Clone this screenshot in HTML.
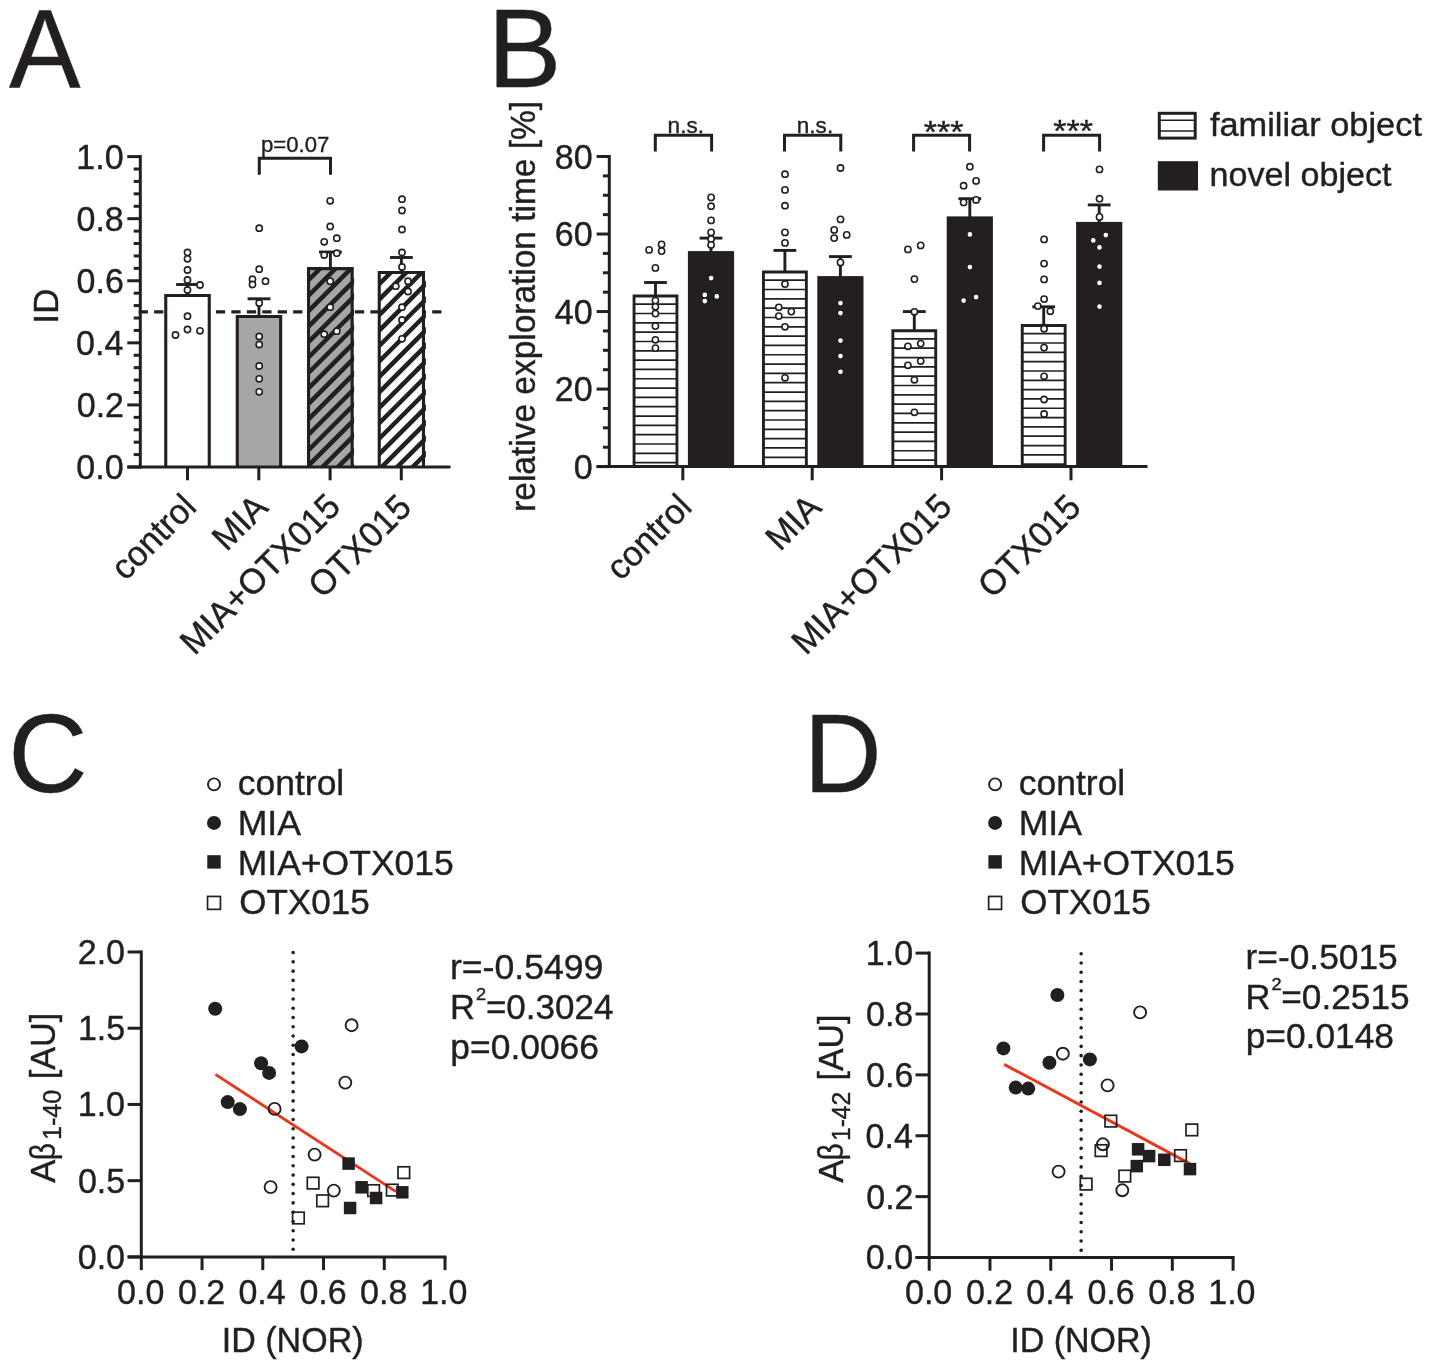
<!DOCTYPE html>
<html><head><meta charset="utf-8"><title>Figure</title>
<style>
html,body{margin:0;padding:0;background:#fff;}
body{width:1429px;height:1369px;overflow:hidden;font-family:"Liberation Sans",sans-serif;}
svg{display:block;will-change:transform;}
svg text{font-family:"Liberation Sans",sans-serif;stroke:#231f20;stroke-width:0.4px;}
</style></head><body>
<svg width="1429" height="1369" viewBox="0 0 1429 1369">
<rect width="1429" height="1369" fill="#fff"/>
<text transform="translate(9.10,87.00) scale(0.9682,1)" x="-0.22" y="0" font-size="110.9" fill="#231f20">A</text>
<text transform="translate(496.70,87.00) scale(0.9962,1)" x="-9.10" y="0" font-size="110.9" fill="#231f20">B</text>
<text transform="translate(13.70,791.70) scale(0.9910,1)" x="-5.63" y="0" font-size="110.9" fill="#231f20">C</text>
<text transform="translate(812.50,791.50) scale(0.9728,1)" x="-9.10" y="0" font-size="110.9" fill="#231f20">D</text>
<line x1="138.65" y1="311.90" x2="441.80" y2="311.90" stroke="#231f20" stroke-width="3.1" stroke-dasharray="9.25 6.2"/>
<line x1="176.10" y1="284.50" x2="198.90" y2="284.50" stroke="#231f20" stroke-width="2.9" />
<line x1="187.50" y1="284.50" x2="187.50" y2="295.50" stroke="#231f20" stroke-width="2.9" />
<line x1="247.60" y1="298.80" x2="270.40" y2="298.80" stroke="#231f20" stroke-width="2.9" />
<line x1="259.00" y1="298.80" x2="259.00" y2="316.50" stroke="#231f20" stroke-width="2.9" />
<line x1="319.00" y1="252.00" x2="341.80" y2="252.00" stroke="#231f20" stroke-width="2.9" />
<line x1="330.40" y1="252.00" x2="330.40" y2="268.60" stroke="#231f20" stroke-width="2.9" />
<line x1="390.00" y1="257.50" x2="412.80" y2="257.50" stroke="#231f20" stroke-width="2.9" />
<line x1="401.40" y1="257.50" x2="401.40" y2="272.40" stroke="#231f20" stroke-width="2.9" />
<rect x="165.75" y="295.55" width="43.50" height="171.45" fill="#fff"/>
<path d="M165.75,467.00 V295.55 H209.25 V467.00" fill="none" stroke="#231f20" stroke-width="3.1"/>
<rect x="237.25" y="316.55" width="43.40" height="150.45" fill="#a7a5a8"/>
<path d="M237.25,467.00 V316.55 H280.65 V467.00" fill="none" stroke="#231f20" stroke-width="3.1"/>
<rect x="308.55" y="268.65" width="43.60" height="198.35" fill="#a7a5a8"/>
<clipPath id="c1"><rect x="308.55" y="268.65" width="45.55" height="198.35"/></clipPath>
<g clip-path="url(#c1)" stroke="#231f20" stroke-width="4.5">
<line x1="302.00" y1="255.75" x2="358.70" y2="199.05"/>
<line x1="302.00" y1="271.20" x2="358.70" y2="214.50"/>
<line x1="302.00" y1="286.65" x2="358.70" y2="229.95"/>
<line x1="302.00" y1="302.10" x2="358.70" y2="245.40"/>
<line x1="302.00" y1="317.55" x2="358.70" y2="260.85"/>
<line x1="302.00" y1="333.00" x2="358.70" y2="276.30"/>
<line x1="302.00" y1="348.45" x2="358.70" y2="291.75"/>
<line x1="302.00" y1="363.90" x2="358.70" y2="307.20"/>
<line x1="302.00" y1="379.35" x2="358.70" y2="322.65"/>
<line x1="302.00" y1="394.80" x2="358.70" y2="338.10"/>
<line x1="302.00" y1="410.25" x2="358.70" y2="353.55"/>
<line x1="302.00" y1="425.70" x2="358.70" y2="369.00"/>
<line x1="302.00" y1="441.15" x2="358.70" y2="384.45"/>
<line x1="302.00" y1="456.60" x2="358.70" y2="399.90"/>
<line x1="302.00" y1="472.05" x2="358.70" y2="415.35"/>
<line x1="302.00" y1="487.50" x2="358.70" y2="430.80"/>
<line x1="302.00" y1="502.95" x2="358.70" y2="446.25"/>
<line x1="302.00" y1="518.40" x2="358.70" y2="461.70"/>
<line x1="302.00" y1="533.85" x2="358.70" y2="477.15"/>
</g>
<path d="M308.55,467.00 V268.65 H352.15 V467.00" fill="none" stroke="#231f20" stroke-width="3.1"/>
<rect x="379.25" y="272.45" width="44.20" height="194.55" fill="#fff"/>
<clipPath id="c2"><rect x="379.25" y="272.45" width="46.65" height="194.55"/></clipPath>
<g clip-path="url(#c2)" stroke="#231f20" stroke-width="4.5">
<line x1="372.70" y1="259.75" x2="430.00" y2="202.45"/>
<line x1="372.70" y1="275.20" x2="430.00" y2="217.90"/>
<line x1="372.70" y1="290.65" x2="430.00" y2="233.35"/>
<line x1="372.70" y1="306.10" x2="430.00" y2="248.80"/>
<line x1="372.70" y1="321.55" x2="430.00" y2="264.25"/>
<line x1="372.70" y1="337.00" x2="430.00" y2="279.70"/>
<line x1="372.70" y1="352.45" x2="430.00" y2="295.15"/>
<line x1="372.70" y1="367.90" x2="430.00" y2="310.60"/>
<line x1="372.70" y1="383.35" x2="430.00" y2="326.05"/>
<line x1="372.70" y1="398.80" x2="430.00" y2="341.50"/>
<line x1="372.70" y1="414.25" x2="430.00" y2="356.95"/>
<line x1="372.70" y1="429.70" x2="430.00" y2="372.40"/>
<line x1="372.70" y1="445.15" x2="430.00" y2="387.85"/>
<line x1="372.70" y1="460.60" x2="430.00" y2="403.30"/>
<line x1="372.70" y1="476.05" x2="430.00" y2="418.75"/>
<line x1="372.70" y1="491.50" x2="430.00" y2="434.20"/>
<line x1="372.70" y1="506.95" x2="430.00" y2="449.65"/>
<line x1="372.70" y1="522.40" x2="430.00" y2="465.10"/>
</g>
<path d="M379.25,467.00 V272.45 H423.45 V467.00" fill="none" stroke="#231f20" stroke-width="3.1"/>
<line x1="140.30" y1="155.10" x2="140.30" y2="468.50" stroke="#231f20" stroke-width="3.0" />
<line x1="127.30" y1="467.00" x2="450.50" y2="467.00" stroke="#231f20" stroke-width="3.0" />
<line x1="127.30" y1="467.00" x2="140.30" y2="467.00" stroke="#231f20" stroke-width="3.0" />
<line x1="133.70" y1="454.58" x2="140.30" y2="454.58" stroke="#231f20" stroke-width="3.0" />
<line x1="133.70" y1="442.17" x2="140.30" y2="442.17" stroke="#231f20" stroke-width="3.0" />
<line x1="133.70" y1="429.75" x2="140.30" y2="429.75" stroke="#231f20" stroke-width="3.0" />
<line x1="133.70" y1="417.34" x2="140.30" y2="417.34" stroke="#231f20" stroke-width="3.0" />
<line x1="127.30" y1="404.92" x2="140.30" y2="404.92" stroke="#231f20" stroke-width="3.0" />
<line x1="133.70" y1="392.50" x2="140.30" y2="392.50" stroke="#231f20" stroke-width="3.0" />
<line x1="133.70" y1="380.09" x2="140.30" y2="380.09" stroke="#231f20" stroke-width="3.0" />
<line x1="133.70" y1="367.67" x2="140.30" y2="367.67" stroke="#231f20" stroke-width="3.0" />
<line x1="133.70" y1="355.26" x2="140.30" y2="355.26" stroke="#231f20" stroke-width="3.0" />
<line x1="127.30" y1="342.84" x2="140.30" y2="342.84" stroke="#231f20" stroke-width="3.0" />
<line x1="133.70" y1="330.42" x2="140.30" y2="330.42" stroke="#231f20" stroke-width="3.0" />
<line x1="133.70" y1="318.01" x2="140.30" y2="318.01" stroke="#231f20" stroke-width="3.0" />
<line x1="133.70" y1="305.59" x2="140.30" y2="305.59" stroke="#231f20" stroke-width="3.0" />
<line x1="133.70" y1="293.18" x2="140.30" y2="293.18" stroke="#231f20" stroke-width="3.0" />
<line x1="127.30" y1="280.76" x2="140.30" y2="280.76" stroke="#231f20" stroke-width="3.0" />
<line x1="133.70" y1="268.34" x2="140.30" y2="268.34" stroke="#231f20" stroke-width="3.0" />
<line x1="133.70" y1="255.93" x2="140.30" y2="255.93" stroke="#231f20" stroke-width="3.0" />
<line x1="133.70" y1="243.51" x2="140.30" y2="243.51" stroke="#231f20" stroke-width="3.0" />
<line x1="133.70" y1="231.10" x2="140.30" y2="231.10" stroke="#231f20" stroke-width="3.0" />
<line x1="127.30" y1="218.68" x2="140.30" y2="218.68" stroke="#231f20" stroke-width="3.0" />
<line x1="133.70" y1="206.26" x2="140.30" y2="206.26" stroke="#231f20" stroke-width="3.0" />
<line x1="133.70" y1="193.85" x2="140.30" y2="193.85" stroke="#231f20" stroke-width="3.0" />
<line x1="133.70" y1="181.43" x2="140.30" y2="181.43" stroke="#231f20" stroke-width="3.0" />
<line x1="133.70" y1="169.02" x2="140.30" y2="169.02" stroke="#231f20" stroke-width="3.0" />
<line x1="127.30" y1="156.60" x2="140.30" y2="156.60" stroke="#231f20" stroke-width="3.0" />
<line x1="187.50" y1="467.00" x2="187.50" y2="480.30" stroke="#231f20" stroke-width="3.0" />
<line x1="258.80" y1="467.00" x2="258.80" y2="480.30" stroke="#231f20" stroke-width="3.0" />
<line x1="330.10" y1="467.00" x2="330.10" y2="480.30" stroke="#231f20" stroke-width="3.0" />
<line x1="401.30" y1="467.00" x2="401.30" y2="480.30" stroke="#231f20" stroke-width="3.0" />
<text transform="translate(122.30,479.00) scale(0.9659,1)" x="-47.56" y="0" font-size="35.2" fill="#231f20">0.0</text>
<text transform="translate(122.30,416.92) scale(0.9659,1)" x="-47.16" y="0" font-size="35.2" fill="#231f20">0.2</text>
<text transform="translate(122.30,354.84) scale(0.9659,1)" x="-47.90" y="0" font-size="35.2" fill="#231f20">0.4</text>
<text transform="translate(122.30,292.76) scale(0.9659,1)" x="-47.39" y="0" font-size="35.2" fill="#231f20">0.6</text>
<text transform="translate(122.30,230.68) scale(0.9659,1)" x="-47.40" y="0" font-size="35.2" fill="#231f20">0.8</text>
<text transform="translate(122.30,168.60) scale(0.9659,1)" x="-47.56" y="0" font-size="35.2" fill="#231f20">1.0</text>
<text transform="translate(58.20,320.50) rotate(-90) scale(1.0044,1)" x="-3.25" y="0" font-size="35.2" fill="#231f20">ID</text>
<polyline points="259.30,174.70 259.30,158.30 330.50,158.30 330.50,174.70" fill="none" stroke="#231f20" stroke-width="3.0"/>
<text transform="translate(295.30,152.00) scale(0.9798,1)" x="-35.04" y="0" font-size="22.6" fill="#231f20">p=0.07</text>
<circle cx="187.50" cy="252.50" r="3.1" fill="#fff" stroke="#231f20" stroke-width="1.6"/>
<circle cx="187.50" cy="258.80" r="3.1" fill="#fff" stroke="#231f20" stroke-width="1.6"/>
<circle cx="187.50" cy="270.00" r="3.1" fill="#fff" stroke="#231f20" stroke-width="1.6"/>
<circle cx="187.50" cy="280.00" r="3.1" fill="#fff" stroke="#231f20" stroke-width="1.6"/>
<circle cx="200.00" cy="285.00" r="3.1" fill="#fff" stroke="#231f20" stroke-width="1.6"/>
<circle cx="187.50" cy="290.00" r="3.1" fill="#fff" stroke="#231f20" stroke-width="1.6"/>
<circle cx="187.50" cy="316.20" r="3.1" fill="#fff" stroke="#231f20" stroke-width="1.6"/>
<circle cx="187.50" cy="329.50" r="3.1" fill="#fff" stroke="#231f20" stroke-width="1.6"/>
<circle cx="200.00" cy="330.80" r="3.1" fill="#fff" stroke="#231f20" stroke-width="1.6"/>
<circle cx="175.50" cy="335.00" r="3.1" fill="#fff" stroke="#231f20" stroke-width="1.6"/>
<circle cx="259.20" cy="228.20" r="3.1" fill="#fff" stroke="#231f20" stroke-width="1.6"/>
<circle cx="259.20" cy="269.20" r="3.1" fill="#fff" stroke="#231f20" stroke-width="1.6"/>
<circle cx="252.50" cy="279.20" r="3.1" fill="#fff" stroke="#231f20" stroke-width="1.6"/>
<circle cx="252.50" cy="284.50" r="3.1" fill="#fff" stroke="#231f20" stroke-width="1.6"/>
<circle cx="265.50" cy="281.20" r="3.1" fill="#fff" stroke="#231f20" stroke-width="1.6"/>
<circle cx="259.20" cy="303.00" r="3.1" fill="#fff" stroke="#231f20" stroke-width="1.6"/>
<circle cx="259.20" cy="336.50" r="3.1" fill="#fff" stroke="#231f20" stroke-width="1.6"/>
<circle cx="259.20" cy="344.50" r="3.1" fill="#fff" stroke="#231f20" stroke-width="1.6"/>
<circle cx="259.20" cy="366.00" r="3.1" fill="#fff" stroke="#231f20" stroke-width="1.6"/>
<circle cx="259.20" cy="378.80" r="3.1" fill="#fff" stroke="#231f20" stroke-width="1.6"/>
<circle cx="259.20" cy="391.80" r="3.1" fill="#fff" stroke="#231f20" stroke-width="1.6"/>
<circle cx="330.20" cy="200.80" r="3.1" fill="#fff" stroke="#231f20" stroke-width="1.6"/>
<circle cx="330.20" cy="226.50" r="3.1" fill="#fff" stroke="#231f20" stroke-width="1.6"/>
<circle cx="336.80" cy="238.20" r="3.1" fill="#fff" stroke="#231f20" stroke-width="1.6"/>
<circle cx="324.20" cy="241.80" r="3.1" fill="#fff" stroke="#231f20" stroke-width="1.6"/>
<circle cx="324.20" cy="255.00" r="3.1" fill="#fff" stroke="#231f20" stroke-width="1.6"/>
<circle cx="336.80" cy="253.20" r="3.1" fill="#fff" stroke="#231f20" stroke-width="1.6"/>
<circle cx="330.20" cy="281.20" r="3.1" fill="#fff" stroke="#231f20" stroke-width="1.6"/>
<circle cx="330.20" cy="307.20" r="3.1" fill="#fff" stroke="#231f20" stroke-width="1.6"/>
<circle cx="324.20" cy="334.20" r="3.1" fill="#fff" stroke="#231f20" stroke-width="1.6"/>
<circle cx="336.80" cy="331.20" r="3.1" fill="#fff" stroke="#231f20" stroke-width="1.6"/>
<circle cx="402.00" cy="199.20" r="3.1" fill="#fff" stroke="#231f20" stroke-width="1.6"/>
<circle cx="402.00" cy="210.50" r="3.1" fill="#fff" stroke="#231f20" stroke-width="1.6"/>
<circle cx="402.00" cy="229.50" r="3.1" fill="#fff" stroke="#231f20" stroke-width="1.6"/>
<circle cx="402.00" cy="252.50" r="3.1" fill="#fff" stroke="#231f20" stroke-width="1.6"/>
<circle cx="402.00" cy="267.00" r="3.1" fill="#fff" stroke="#231f20" stroke-width="1.6"/>
<circle cx="408.00" cy="281.20" r="3.1" fill="#fff" stroke="#231f20" stroke-width="1.6"/>
<circle cx="395.80" cy="286.20" r="3.1" fill="#fff" stroke="#231f20" stroke-width="1.6"/>
<circle cx="408.00" cy="291.50" r="3.1" fill="#fff" stroke="#231f20" stroke-width="1.6"/>
<circle cx="402.00" cy="307.20" r="3.1" fill="#fff" stroke="#231f20" stroke-width="1.6"/>
<circle cx="402.00" cy="320.00" r="3.1" fill="#fff" stroke="#231f20" stroke-width="1.6"/>
<circle cx="402.00" cy="338.80" r="3.1" fill="#fff" stroke="#231f20" stroke-width="1.6"/>
<text transform="translate(196.60,510.50) rotate(-45) scale(0.9744,1)" x="-103.30" y="0" font-size="35.2" fill="#231f20">control</text>
<text transform="translate(269.60,509.30) rotate(-45) scale(0.9744,1)" x="-62.51" y="0" font-size="35.2" fill="#231f20">MIA</text>
<text transform="translate(341.10,509.60) rotate(-45) scale(0.9744,1)" x="-212.75" y="0" font-size="35.2" fill="#231f20">MIA+OTX015</text>
<text transform="translate(412.10,510.30) rotate(-45) scale(0.9744,1)" x="-129.61" y="0" font-size="35.2" fill="#231f20">OTX015</text>
<line x1="644.10" y1="282.50" x2="666.90" y2="282.50" stroke="#231f20" stroke-width="2.9" />
<line x1="655.50" y1="282.50" x2="655.50" y2="296.10" stroke="#231f20" stroke-width="2.9" />
<line x1="699.60" y1="238.10" x2="722.40" y2="238.10" stroke="#231f20" stroke-width="2.9" />
<line x1="711.00" y1="238.10" x2="711.00" y2="252.60" stroke="#231f20" stroke-width="2.9" />
<rect x="634.05" y="296.05" width="42.90" height="170.55" fill="#fff"/>
<g stroke="#231f20" stroke-width="1.7">
<line x1="634.05" y1="304.20" x2="676.95" y2="304.20"/>
<line x1="634.05" y1="313.52" x2="676.95" y2="313.52"/>
<line x1="634.05" y1="322.84" x2="676.95" y2="322.84"/>
<line x1="634.05" y1="332.16" x2="676.95" y2="332.16"/>
<line x1="634.05" y1="341.48" x2="676.95" y2="341.48"/>
<line x1="634.05" y1="350.80" x2="676.95" y2="350.80"/>
<line x1="634.05" y1="360.12" x2="676.95" y2="360.12"/>
<line x1="634.05" y1="369.44" x2="676.95" y2="369.44"/>
<line x1="634.05" y1="378.76" x2="676.95" y2="378.76"/>
<line x1="634.05" y1="388.08" x2="676.95" y2="388.08"/>
<line x1="634.05" y1="397.40" x2="676.95" y2="397.40"/>
<line x1="634.05" y1="406.72" x2="676.95" y2="406.72"/>
<line x1="634.05" y1="416.04" x2="676.95" y2="416.04"/>
<line x1="634.05" y1="425.36" x2="676.95" y2="425.36"/>
<line x1="634.05" y1="434.68" x2="676.95" y2="434.68"/>
<line x1="634.05" y1="444.00" x2="676.95" y2="444.00"/>
<line x1="634.05" y1="453.32" x2="676.95" y2="453.32"/>
<line x1="634.05" y1="462.64" x2="676.95" y2="462.64"/>
</g>
<path d="M634.05,466.60 V296.05 H676.95 V466.60" fill="none" stroke="#231f20" stroke-width="2.9"/>
<rect x="687.90" y="251.10" width="46.2" height="215.50" fill="#231f20"/>
<line x1="682.80" y1="466.60" x2="682.80" y2="480.30" stroke="#231f20" stroke-width="3.0" />
<line x1="773.50" y1="250.40" x2="796.30" y2="250.40" stroke="#231f20" stroke-width="2.9" />
<line x1="784.90" y1="250.40" x2="784.90" y2="272.10" stroke="#231f20" stroke-width="2.9" />
<line x1="829.00" y1="256.60" x2="851.80" y2="256.60" stroke="#231f20" stroke-width="2.9" />
<line x1="840.40" y1="256.60" x2="840.40" y2="277.60" stroke="#231f20" stroke-width="2.9" />
<rect x="763.45" y="272.05" width="42.90" height="194.55" fill="#fff"/>
<g stroke="#231f20" stroke-width="1.7">
<line x1="763.45" y1="280.20" x2="806.35" y2="280.20"/>
<line x1="763.45" y1="289.52" x2="806.35" y2="289.52"/>
<line x1="763.45" y1="298.84" x2="806.35" y2="298.84"/>
<line x1="763.45" y1="308.16" x2="806.35" y2="308.16"/>
<line x1="763.45" y1="317.48" x2="806.35" y2="317.48"/>
<line x1="763.45" y1="326.80" x2="806.35" y2="326.80"/>
<line x1="763.45" y1="336.12" x2="806.35" y2="336.12"/>
<line x1="763.45" y1="345.44" x2="806.35" y2="345.44"/>
<line x1="763.45" y1="354.76" x2="806.35" y2="354.76"/>
<line x1="763.45" y1="364.08" x2="806.35" y2="364.08"/>
<line x1="763.45" y1="373.40" x2="806.35" y2="373.40"/>
<line x1="763.45" y1="382.72" x2="806.35" y2="382.72"/>
<line x1="763.45" y1="392.04" x2="806.35" y2="392.04"/>
<line x1="763.45" y1="401.36" x2="806.35" y2="401.36"/>
<line x1="763.45" y1="410.68" x2="806.35" y2="410.68"/>
<line x1="763.45" y1="420.00" x2="806.35" y2="420.00"/>
<line x1="763.45" y1="429.32" x2="806.35" y2="429.32"/>
<line x1="763.45" y1="438.64" x2="806.35" y2="438.64"/>
<line x1="763.45" y1="447.96" x2="806.35" y2="447.96"/>
<line x1="763.45" y1="457.28" x2="806.35" y2="457.28"/>
</g>
<path d="M763.45,466.60 V272.05 H806.35 V466.60" fill="none" stroke="#231f20" stroke-width="2.9"/>
<rect x="817.30" y="276.10" width="46.2" height="190.50" fill="#231f20"/>
<line x1="812.20" y1="466.60" x2="812.20" y2="480.30" stroke="#231f20" stroke-width="3.0" />
<line x1="902.90" y1="311.60" x2="925.70" y2="311.60" stroke="#231f20" stroke-width="2.9" />
<line x1="914.30" y1="311.60" x2="914.30" y2="330.80" stroke="#231f20" stroke-width="2.9" />
<line x1="958.40" y1="198.70" x2="981.20" y2="198.70" stroke="#231f20" stroke-width="2.9" />
<line x1="969.80" y1="198.70" x2="969.80" y2="217.90" stroke="#231f20" stroke-width="2.9" />
<rect x="892.85" y="330.75" width="42.90" height="135.85" fill="#fff"/>
<g stroke="#231f20" stroke-width="1.7">
<line x1="892.85" y1="338.90" x2="935.75" y2="338.90"/>
<line x1="892.85" y1="348.22" x2="935.75" y2="348.22"/>
<line x1="892.85" y1="357.54" x2="935.75" y2="357.54"/>
<line x1="892.85" y1="366.86" x2="935.75" y2="366.86"/>
<line x1="892.85" y1="376.18" x2="935.75" y2="376.18"/>
<line x1="892.85" y1="385.50" x2="935.75" y2="385.50"/>
<line x1="892.85" y1="394.82" x2="935.75" y2="394.82"/>
<line x1="892.85" y1="404.14" x2="935.75" y2="404.14"/>
<line x1="892.85" y1="413.46" x2="935.75" y2="413.46"/>
<line x1="892.85" y1="422.78" x2="935.75" y2="422.78"/>
<line x1="892.85" y1="432.10" x2="935.75" y2="432.10"/>
<line x1="892.85" y1="441.42" x2="935.75" y2="441.42"/>
<line x1="892.85" y1="450.74" x2="935.75" y2="450.74"/>
<line x1="892.85" y1="460.06" x2="935.75" y2="460.06"/>
</g>
<path d="M892.85,466.60 V330.75 H935.75 V466.60" fill="none" stroke="#231f20" stroke-width="2.9"/>
<rect x="946.70" y="216.40" width="46.2" height="250.20" fill="#231f20"/>
<line x1="941.60" y1="466.60" x2="941.60" y2="480.30" stroke="#231f20" stroke-width="3.0" />
<line x1="1032.30" y1="306.80" x2="1055.10" y2="306.80" stroke="#231f20" stroke-width="2.9" />
<line x1="1043.70" y1="306.80" x2="1043.70" y2="325.60" stroke="#231f20" stroke-width="2.9" />
<line x1="1087.80" y1="204.90" x2="1110.60" y2="204.90" stroke="#231f20" stroke-width="2.9" />
<line x1="1099.20" y1="204.90" x2="1099.20" y2="223.40" stroke="#231f20" stroke-width="2.9" />
<rect x="1022.25" y="325.55" width="42.90" height="141.05" fill="#fff"/>
<g stroke="#231f20" stroke-width="1.7">
<line x1="1022.25" y1="333.70" x2="1065.15" y2="333.70"/>
<line x1="1022.25" y1="343.02" x2="1065.15" y2="343.02"/>
<line x1="1022.25" y1="352.34" x2="1065.15" y2="352.34"/>
<line x1="1022.25" y1="361.66" x2="1065.15" y2="361.66"/>
<line x1="1022.25" y1="370.98" x2="1065.15" y2="370.98"/>
<line x1="1022.25" y1="380.30" x2="1065.15" y2="380.30"/>
<line x1="1022.25" y1="389.62" x2="1065.15" y2="389.62"/>
<line x1="1022.25" y1="398.94" x2="1065.15" y2="398.94"/>
<line x1="1022.25" y1="408.26" x2="1065.15" y2="408.26"/>
<line x1="1022.25" y1="417.58" x2="1065.15" y2="417.58"/>
<line x1="1022.25" y1="426.90" x2="1065.15" y2="426.90"/>
<line x1="1022.25" y1="436.22" x2="1065.15" y2="436.22"/>
<line x1="1022.25" y1="445.54" x2="1065.15" y2="445.54"/>
<line x1="1022.25" y1="454.86" x2="1065.15" y2="454.86"/>
<line x1="1022.25" y1="464.18" x2="1065.15" y2="464.18"/>
</g>
<path d="M1022.25,466.60 V325.55 H1065.15 V466.60" fill="none" stroke="#231f20" stroke-width="2.9"/>
<rect x="1076.10" y="221.90" width="46.2" height="244.70" fill="#231f20"/>
<line x1="1071.00" y1="466.60" x2="1071.00" y2="480.30" stroke="#231f20" stroke-width="3.0" />
<line x1="609.30" y1="155.00" x2="609.30" y2="468.10" stroke="#231f20" stroke-width="3.0" />
<line x1="596.60" y1="466.60" x2="1147.50" y2="466.60" stroke="#231f20" stroke-width="3.0" />
<line x1="596.60" y1="466.60" x2="609.30" y2="466.60" stroke="#231f20" stroke-width="3.0" />
<line x1="602.90" y1="447.22" x2="609.30" y2="447.22" stroke="#231f20" stroke-width="3.0" />
<line x1="602.90" y1="427.84" x2="609.30" y2="427.84" stroke="#231f20" stroke-width="3.0" />
<line x1="602.90" y1="408.46" x2="609.30" y2="408.46" stroke="#231f20" stroke-width="3.0" />
<line x1="596.60" y1="389.08" x2="609.30" y2="389.08" stroke="#231f20" stroke-width="3.0" />
<line x1="602.90" y1="369.69" x2="609.30" y2="369.69" stroke="#231f20" stroke-width="3.0" />
<line x1="602.90" y1="350.31" x2="609.30" y2="350.31" stroke="#231f20" stroke-width="3.0" />
<line x1="602.90" y1="330.93" x2="609.30" y2="330.93" stroke="#231f20" stroke-width="3.0" />
<line x1="596.60" y1="311.55" x2="609.30" y2="311.55" stroke="#231f20" stroke-width="3.0" />
<line x1="602.90" y1="292.17" x2="609.30" y2="292.17" stroke="#231f20" stroke-width="3.0" />
<line x1="602.90" y1="272.79" x2="609.30" y2="272.79" stroke="#231f20" stroke-width="3.0" />
<line x1="602.90" y1="253.41" x2="609.30" y2="253.41" stroke="#231f20" stroke-width="3.0" />
<line x1="596.60" y1="234.03" x2="609.30" y2="234.03" stroke="#231f20" stroke-width="3.0" />
<line x1="602.90" y1="214.64" x2="609.30" y2="214.64" stroke="#231f20" stroke-width="3.0" />
<line x1="602.90" y1="195.26" x2="609.30" y2="195.26" stroke="#231f20" stroke-width="3.0" />
<line x1="602.90" y1="175.88" x2="609.30" y2="175.88" stroke="#231f20" stroke-width="3.0" />
<line x1="596.60" y1="156.50" x2="609.30" y2="156.50" stroke="#231f20" stroke-width="3.0" />
<text transform="translate(591.30,478.60) scale(0.9659,1)" x="-18.20" y="0" font-size="35.2" fill="#231f20">0</text>
<text transform="translate(591.30,401.08) scale(0.9659,1)" x="-37.78" y="0" font-size="35.2" fill="#231f20">20</text>
<text transform="translate(591.30,323.55) scale(0.9659,1)" x="-37.78" y="0" font-size="35.2" fill="#231f20">40</text>
<text transform="translate(591.30,246.03) scale(0.9659,1)" x="-37.78" y="0" font-size="35.2" fill="#231f20">60</text>
<text transform="translate(591.30,168.50) scale(0.9659,1)" x="-37.78" y="0" font-size="35.2" fill="#231f20">80</text>
<text transform="translate(535.00,509.60) rotate(-90) scale(0.9615,1)" x="-2.31" y="0" font-size="34.8" fill="#231f20">relative exploration time [%]</text>
<polyline points="655.30,151.50 655.30,135.30 711.60,135.30 711.60,151.50" fill="none" stroke="#231f20" stroke-width="3.0"/>
<polyline points="784.50,151.50 784.50,135.30 840.80,135.30 840.80,151.50" fill="none" stroke="#231f20" stroke-width="3.0"/>
<polyline points="913.60,151.50 913.60,135.30 969.60,135.30 969.60,151.50" fill="none" stroke="#231f20" stroke-width="3.0"/>
<polyline points="1043.60,151.50 1043.60,135.30 1099.60,135.30 1099.60,151.50" fill="none" stroke="#231f20" stroke-width="3.0"/>
<text transform="translate(685.50,132.60) scale(0.9981,1)" x="-17.93" y="0" font-size="22.6" fill="#231f20">n.s.</text>
<text transform="translate(814.70,132.60) scale(0.9981,1)" x="-17.93" y="0" font-size="22.6" fill="#231f20">n.s.</text>
<text transform="translate(943.70,142.80) scale(1.0963,1)" x="-18.10" y="0" font-size="31" fill="#231f20">***</text>
<text transform="translate(1073.20,142.20) scale(1.0963,1)" x="-18.10" y="0" font-size="31" fill="#231f20">***</text>
<rect x="1159.3" y="113.3" width="35.9" height="24.8" fill="#fff" stroke="#231f20" stroke-width="3.0"/>
<line x1="1159.30" y1="120.30" x2="1195.20" y2="120.30" stroke="#231f20" stroke-width="1.6" />
<line x1="1159.30" y1="131.00" x2="1195.20" y2="131.00" stroke="#231f20" stroke-width="1.6" />
<rect x="1157.8" y="161.2" width="40.2" height="29.3" fill="#231f20"/>
<text transform="translate(1210.40,136.30) scale(1.0416,1)" x="-0.47" y="0" font-size="33.0" fill="#231f20">familiar object</text>
<text transform="translate(1211.80,186.40) scale(1.0341,1)" x="-2.19" y="0" font-size="33.0" fill="#231f20">novel object</text>
<circle cx="649.10" cy="249.90" r="3.1" fill="#fff" stroke="#231f20" stroke-width="1.6"/>
<circle cx="661.60" cy="244.40" r="3.1" fill="#fff" stroke="#231f20" stroke-width="1.6"/>
<circle cx="661.60" cy="251.10" r="3.1" fill="#fff" stroke="#231f20" stroke-width="1.6"/>
<circle cx="655.40" cy="267.90" r="3.1" fill="#fff" stroke="#231f20" stroke-width="1.6"/>
<circle cx="655.40" cy="300.60" r="3.1" fill="#fff" stroke="#231f20" stroke-width="1.6"/>
<circle cx="655.40" cy="306.80" r="3.1" fill="#fff" stroke="#231f20" stroke-width="1.6"/>
<circle cx="655.40" cy="313.60" r="3.1" fill="#fff" stroke="#231f20" stroke-width="1.6"/>
<circle cx="655.40" cy="326.10" r="3.1" fill="#fff" stroke="#231f20" stroke-width="1.6"/>
<circle cx="655.40" cy="339.80" r="3.1" fill="#fff" stroke="#231f20" stroke-width="1.6"/>
<circle cx="655.40" cy="348.10" r="3.1" fill="#fff" stroke="#231f20" stroke-width="1.6"/>
<circle cx="711.10" cy="197.40" r="3.1" fill="#fff" stroke="#231f20" stroke-width="1.6"/>
<circle cx="711.10" cy="206.20" r="3.1" fill="#fff" stroke="#231f20" stroke-width="1.6"/>
<circle cx="711.10" cy="220.40" r="3.1" fill="#fff" stroke="#231f20" stroke-width="1.6"/>
<circle cx="711.10" cy="232.40" r="3.1" fill="#fff" stroke="#231f20" stroke-width="1.6"/>
<circle cx="711.10" cy="239.00" r="3.1" fill="#fff" stroke="#231f20" stroke-width="1.6"/>
<circle cx="711.10" cy="244.90" r="3.1" fill="#fff" stroke="#231f20" stroke-width="1.6"/>
<circle cx="711.10" cy="278.10" r="3.1" fill="#fff" stroke="#231f20" stroke-width="1.6"/>
<circle cx="704.80" cy="294.90" r="3.1" fill="#fff" stroke="#231f20" stroke-width="1.6"/>
<circle cx="716.80" cy="296.40" r="3.1" fill="#fff" stroke="#231f20" stroke-width="1.6"/>
<circle cx="704.80" cy="301.10" r="3.1" fill="#fff" stroke="#231f20" stroke-width="1.6"/>
<circle cx="785.00" cy="174.20" r="3.1" fill="#fff" stroke="#231f20" stroke-width="1.6"/>
<circle cx="785.00" cy="189.90" r="3.1" fill="#fff" stroke="#231f20" stroke-width="1.6"/>
<circle cx="785.00" cy="205.70" r="3.1" fill="#fff" stroke="#231f20" stroke-width="1.6"/>
<circle cx="785.00" cy="232.40" r="3.1" fill="#fff" stroke="#231f20" stroke-width="1.6"/>
<circle cx="785.00" cy="242.90" r="3.1" fill="#fff" stroke="#231f20" stroke-width="1.6"/>
<circle cx="785.00" cy="284.10" r="3.1" fill="#fff" stroke="#231f20" stroke-width="1.6"/>
<circle cx="778.80" cy="307.30" r="3.1" fill="#fff" stroke="#231f20" stroke-width="1.6"/>
<circle cx="791.30" cy="311.60" r="3.1" fill="#fff" stroke="#231f20" stroke-width="1.6"/>
<circle cx="778.80" cy="316.10" r="3.1" fill="#fff" stroke="#231f20" stroke-width="1.6"/>
<circle cx="785.00" cy="326.80" r="3.1" fill="#fff" stroke="#231f20" stroke-width="1.6"/>
<circle cx="785.00" cy="377.80" r="3.1" fill="#fff" stroke="#231f20" stroke-width="1.6"/>
<circle cx="840.50" cy="168.00" r="3.1" fill="#fff" stroke="#231f20" stroke-width="1.6"/>
<circle cx="840.50" cy="219.40" r="3.1" fill="#fff" stroke="#231f20" stroke-width="1.6"/>
<circle cx="834.20" cy="229.90" r="3.1" fill="#fff" stroke="#231f20" stroke-width="1.6"/>
<circle cx="834.20" cy="238.10" r="3.1" fill="#fff" stroke="#231f20" stroke-width="1.6"/>
<circle cx="846.70" cy="234.90" r="3.1" fill="#fff" stroke="#231f20" stroke-width="1.6"/>
<circle cx="840.50" cy="262.40" r="3.1" fill="#fff" stroke="#231f20" stroke-width="1.6"/>
<circle cx="840.50" cy="303.10" r="3.1" fill="#fff" stroke="#231f20" stroke-width="1.6"/>
<circle cx="840.50" cy="313.10" r="3.1" fill="#fff" stroke="#231f20" stroke-width="1.6"/>
<circle cx="840.50" cy="340.60" r="3.1" fill="#fff" stroke="#231f20" stroke-width="1.6"/>
<circle cx="840.50" cy="356.10" r="3.1" fill="#fff" stroke="#231f20" stroke-width="1.6"/>
<circle cx="840.50" cy="371.80" r="3.1" fill="#fff" stroke="#231f20" stroke-width="1.6"/>
<circle cx="907.90" cy="249.40" r="3.1" fill="#fff" stroke="#231f20" stroke-width="1.6"/>
<circle cx="920.70" cy="245.40" r="3.1" fill="#fff" stroke="#231f20" stroke-width="1.6"/>
<circle cx="914.40" cy="279.10" r="3.1" fill="#fff" stroke="#231f20" stroke-width="1.6"/>
<circle cx="914.40" cy="311.80" r="3.1" fill="#fff" stroke="#231f20" stroke-width="1.6"/>
<circle cx="920.70" cy="343.60" r="3.1" fill="#fff" stroke="#231f20" stroke-width="1.6"/>
<circle cx="907.90" cy="346.30" r="3.1" fill="#fff" stroke="#231f20" stroke-width="1.6"/>
<circle cx="920.70" cy="361.10" r="3.1" fill="#fff" stroke="#231f20" stroke-width="1.6"/>
<circle cx="907.90" cy="365.30" r="3.1" fill="#fff" stroke="#231f20" stroke-width="1.6"/>
<circle cx="914.40" cy="379.80" r="3.1" fill="#fff" stroke="#231f20" stroke-width="1.6"/>
<circle cx="914.40" cy="412.30" r="3.1" fill="#fff" stroke="#231f20" stroke-width="1.6"/>
<circle cx="969.90" cy="166.70" r="3.1" fill="#fff" stroke="#231f20" stroke-width="1.6"/>
<circle cx="976.10" cy="180.90" r="3.1" fill="#fff" stroke="#231f20" stroke-width="1.6"/>
<circle cx="963.60" cy="185.70" r="3.1" fill="#fff" stroke="#231f20" stroke-width="1.6"/>
<circle cx="976.10" cy="199.90" r="3.1" fill="#fff" stroke="#231f20" stroke-width="1.6"/>
<circle cx="963.60" cy="202.40" r="3.1" fill="#fff" stroke="#231f20" stroke-width="1.6"/>
<circle cx="969.90" cy="234.40" r="3.1" fill="#fff" stroke="#231f20" stroke-width="1.6"/>
<circle cx="969.90" cy="267.10" r="3.1" fill="#fff" stroke="#231f20" stroke-width="1.6"/>
<circle cx="976.10" cy="297.10" r="3.1" fill="#fff" stroke="#231f20" stroke-width="1.6"/>
<circle cx="963.60" cy="300.60" r="3.1" fill="#fff" stroke="#231f20" stroke-width="1.6"/>
<circle cx="1044.10" cy="239.40" r="3.1" fill="#fff" stroke="#231f20" stroke-width="1.6"/>
<circle cx="1044.10" cy="263.60" r="3.1" fill="#fff" stroke="#231f20" stroke-width="1.6"/>
<circle cx="1044.10" cy="279.40" r="3.1" fill="#fff" stroke="#231f20" stroke-width="1.6"/>
<circle cx="1044.10" cy="299.10" r="3.1" fill="#fff" stroke="#231f20" stroke-width="1.6"/>
<circle cx="1037.80" cy="306.10" r="3.1" fill="#fff" stroke="#231f20" stroke-width="1.6"/>
<circle cx="1050.30" cy="311.30" r="3.1" fill="#fff" stroke="#231f20" stroke-width="1.6"/>
<circle cx="1044.10" cy="328.80" r="3.1" fill="#fff" stroke="#231f20" stroke-width="1.6"/>
<circle cx="1044.10" cy="347.60" r="3.1" fill="#fff" stroke="#231f20" stroke-width="1.6"/>
<circle cx="1044.10" cy="376.30" r="3.1" fill="#fff" stroke="#231f20" stroke-width="1.6"/>
<circle cx="1044.10" cy="399.50" r="3.1" fill="#fff" stroke="#231f20" stroke-width="1.6"/>
<circle cx="1044.10" cy="414.00" r="3.1" fill="#fff" stroke="#231f20" stroke-width="1.6"/>
<circle cx="1099.50" cy="169.40" r="3.1" fill="#fff" stroke="#231f20" stroke-width="1.6"/>
<circle cx="1099.50" cy="198.70" r="3.1" fill="#fff" stroke="#231f20" stroke-width="1.6"/>
<circle cx="1099.50" cy="216.90" r="3.1" fill="#fff" stroke="#231f20" stroke-width="1.6"/>
<circle cx="1105.80" cy="235.10" r="3.1" fill="#fff" stroke="#231f20" stroke-width="1.6"/>
<circle cx="1093.30" cy="240.40" r="3.1" fill="#fff" stroke="#231f20" stroke-width="1.6"/>
<circle cx="1099.50" cy="247.40" r="3.1" fill="#fff" stroke="#231f20" stroke-width="1.6"/>
<circle cx="1099.50" cy="266.60" r="3.1" fill="#fff" stroke="#231f20" stroke-width="1.6"/>
<circle cx="1099.50" cy="282.90" r="3.1" fill="#fff" stroke="#231f20" stroke-width="1.6"/>
<circle cx="1099.50" cy="306.60" r="3.1" fill="#fff" stroke="#231f20" stroke-width="1.6"/>
<text transform="translate(691.90,510.50) rotate(-45) scale(0.9744,1)" x="-103.30" y="0" font-size="35.2" fill="#231f20">control</text>
<text transform="translate(823.00,509.30) rotate(-45) scale(0.9744,1)" x="-62.51" y="0" font-size="35.2" fill="#231f20">MIA</text>
<text transform="translate(952.60,509.60) rotate(-45) scale(0.9744,1)" x="-212.75" y="0" font-size="35.2" fill="#231f20">MIA+OTX015</text>
<text transform="translate(1081.80,510.30) rotate(-45) scale(0.9744,1)" x="-129.61" y="0" font-size="35.2" fill="#231f20">OTX015</text>
<circle cx="293.15" cy="952.60" r="1.8" fill="#231f20"/>
<circle cx="293.15" cy="961.87" r="1.8" fill="#231f20"/>
<circle cx="293.15" cy="971.14" r="1.8" fill="#231f20"/>
<circle cx="293.15" cy="980.41" r="1.8" fill="#231f20"/>
<circle cx="293.15" cy="989.68" r="1.8" fill="#231f20"/>
<circle cx="293.15" cy="998.95" r="1.8" fill="#231f20"/>
<circle cx="293.15" cy="1008.22" r="1.8" fill="#231f20"/>
<circle cx="293.15" cy="1017.49" r="1.8" fill="#231f20"/>
<circle cx="293.15" cy="1026.76" r="1.8" fill="#231f20"/>
<circle cx="293.15" cy="1036.03" r="1.8" fill="#231f20"/>
<circle cx="293.15" cy="1045.30" r="1.8" fill="#231f20"/>
<circle cx="293.15" cy="1054.57" r="1.8" fill="#231f20"/>
<circle cx="293.15" cy="1063.84" r="1.8" fill="#231f20"/>
<circle cx="293.15" cy="1073.11" r="1.8" fill="#231f20"/>
<circle cx="293.15" cy="1082.38" r="1.8" fill="#231f20"/>
<circle cx="293.15" cy="1091.65" r="1.8" fill="#231f20"/>
<circle cx="293.15" cy="1100.92" r="1.8" fill="#231f20"/>
<circle cx="293.15" cy="1110.19" r="1.8" fill="#231f20"/>
<circle cx="293.15" cy="1119.46" r="1.8" fill="#231f20"/>
<circle cx="293.15" cy="1128.73" r="1.8" fill="#231f20"/>
<circle cx="293.15" cy="1138.00" r="1.8" fill="#231f20"/>
<circle cx="293.15" cy="1147.27" r="1.8" fill="#231f20"/>
<circle cx="293.15" cy="1156.54" r="1.8" fill="#231f20"/>
<circle cx="293.15" cy="1165.81" r="1.8" fill="#231f20"/>
<circle cx="293.15" cy="1175.08" r="1.8" fill="#231f20"/>
<circle cx="293.15" cy="1184.35" r="1.8" fill="#231f20"/>
<circle cx="293.15" cy="1193.62" r="1.8" fill="#231f20"/>
<circle cx="293.15" cy="1202.89" r="1.8" fill="#231f20"/>
<circle cx="293.15" cy="1212.16" r="1.8" fill="#231f20"/>
<circle cx="293.15" cy="1221.43" r="1.8" fill="#231f20"/>
<circle cx="293.15" cy="1230.70" r="1.8" fill="#231f20"/>
<circle cx="293.15" cy="1239.97" r="1.8" fill="#231f20"/>
<circle cx="293.15" cy="1249.24" r="1.8" fill="#231f20"/>
<line x1="215.40" y1="1074.40" x2="396.00" y2="1191.60" stroke="#e5391d" stroke-width="2.9" />
<line x1="141.30" y1="950.50" x2="141.30" y2="1258.40" stroke="#231f20" stroke-width="3.0" />
<line x1="127.60" y1="1256.90" x2="446.50" y2="1256.90" stroke="#231f20" stroke-width="3.0" />
<line x1="127.60" y1="1256.90" x2="141.30" y2="1256.90" stroke="#231f20" stroke-width="3.0" />
<text transform="translate(123.70,1268.80) scale(0.9659,1)" x="-47.56" y="0" font-size="35.2" fill="#231f20">0.0</text>
<line x1="127.60" y1="1180.68" x2="141.30" y2="1180.68" stroke="#231f20" stroke-width="3.0" />
<text transform="translate(123.70,1192.58) scale(0.9659,1)" x="-47.45" y="0" font-size="35.2" fill="#231f20">0.5</text>
<line x1="127.60" y1="1104.45" x2="141.30" y2="1104.45" stroke="#231f20" stroke-width="3.0" />
<text transform="translate(123.70,1116.35) scale(0.9659,1)" x="-47.56" y="0" font-size="35.2" fill="#231f20">1.0</text>
<line x1="127.60" y1="1028.22" x2="141.30" y2="1028.22" stroke="#231f20" stroke-width="3.0" />
<text transform="translate(123.70,1040.12) scale(0.9659,1)" x="-47.45" y="0" font-size="35.2" fill="#231f20">1.5</text>
<line x1="127.60" y1="952.00" x2="141.30" y2="952.00" stroke="#231f20" stroke-width="3.0" />
<text transform="translate(123.70,963.90) scale(0.9659,1)" x="-47.56" y="0" font-size="35.2" fill="#231f20">2.0</text>
<line x1="141.30" y1="1256.90" x2="141.30" y2="1270.10" stroke="#231f20" stroke-width="3.0" />
<text transform="translate(140.70,1304.30) scale(0.9659,1)" x="-24.47" y="0" font-size="35.2" fill="#231f20">0.0</text>
<line x1="202.04" y1="1256.90" x2="202.04" y2="1270.10" stroke="#231f20" stroke-width="3.0" />
<text transform="translate(201.44,1304.30) scale(0.9659,1)" x="-24.27" y="0" font-size="35.2" fill="#231f20">0.2</text>
<line x1="262.78" y1="1256.90" x2="262.78" y2="1270.10" stroke="#231f20" stroke-width="3.0" />
<text transform="translate(262.18,1304.30) scale(0.9659,1)" x="-24.64" y="0" font-size="35.2" fill="#231f20">0.4</text>
<line x1="323.52" y1="1256.90" x2="323.52" y2="1270.10" stroke="#231f20" stroke-width="3.0" />
<text transform="translate(322.92,1304.30) scale(0.9659,1)" x="-24.38" y="0" font-size="35.2" fill="#231f20">0.6</text>
<line x1="384.26" y1="1256.90" x2="384.26" y2="1270.10" stroke="#231f20" stroke-width="3.0" />
<text transform="translate(383.66,1304.30) scale(0.9659,1)" x="-24.39" y="0" font-size="35.2" fill="#231f20">0.8</text>
<line x1="445.00" y1="1256.90" x2="445.00" y2="1270.10" stroke="#231f20" stroke-width="3.0" />
<text transform="translate(444.40,1304.30) scale(0.9659,1)" x="-25.12" y="0" font-size="35.2" fill="#231f20">1.0</text>
<text transform="translate(293.20,1352.00) scale(0.9673,1)" x="-73.85" y="0" font-size="35.2" fill="#231f20">ID (NOR)</text>
<circle cx="351.60" cy="1025.20" r="6.0" fill="none" stroke="#231f20" stroke-width="1.9"/>
<circle cx="345.30" cy="1082.60" r="6.0" fill="none" stroke="#231f20" stroke-width="1.9"/>
<circle cx="274.60" cy="1108.90" r="6.0" fill="none" stroke="#231f20" stroke-width="1.9"/>
<circle cx="314.60" cy="1154.60" r="6.0" fill="none" stroke="#231f20" stroke-width="1.9"/>
<circle cx="270.60" cy="1187.10" r="6.0" fill="none" stroke="#231f20" stroke-width="1.9"/>
<circle cx="333.80" cy="1190.60" r="6.0" fill="none" stroke="#231f20" stroke-width="1.9"/>
<rect x="398.00" y="1166.80" width="11.6" height="11.6" fill="none" stroke="#231f20" stroke-width="1.7"/>
<rect x="307.30" y="1177.30" width="11.6" height="11.6" fill="none" stroke="#231f20" stroke-width="1.7"/>
<rect x="316.80" y="1195.00" width="11.6" height="11.6" fill="none" stroke="#231f20" stroke-width="1.7"/>
<rect x="367.80" y="1184.80" width="11.6" height="11.6" fill="none" stroke="#231f20" stroke-width="1.7"/>
<rect x="386.50" y="1184.30" width="11.6" height="11.6" fill="none" stroke="#231f20" stroke-width="1.7"/>
<rect x="292.60" y="1212.20" width="11.6" height="11.6" fill="none" stroke="#231f20" stroke-width="1.7"/>
<circle cx="215.20" cy="1008.70" r="7.0" fill="#231f20"/>
<circle cx="261.10" cy="1063.20" r="7.0" fill="#231f20"/>
<circle cx="269.10" cy="1072.90" r="7.0" fill="#231f20"/>
<circle cx="301.60" cy="1046.40" r="7.0" fill="#231f20"/>
<circle cx="227.70" cy="1102.10" r="7.0" fill="#231f20"/>
<circle cx="239.90" cy="1109.10" r="7.0" fill="#231f20"/>
<rect x="342.35" y="1157.35" width="12.5" height="12.5" fill="#231f20"/>
<rect x="355.35" y="1181.05" width="12.5" height="12.5" fill="#231f20"/>
<rect x="369.85" y="1191.75" width="12.5" height="12.5" fill="#231f20"/>
<rect x="343.85" y="1201.75" width="12.5" height="12.5" fill="#231f20"/>
<rect x="396.05" y="1186.05" width="12.5" height="12.5" fill="#231f20"/>
<circle cx="214.00" cy="784.40" r="6.0" fill="none" stroke="#231f20" stroke-width="1.9"/>
<circle cx="214.00" cy="822.90" r="7.0" fill="#231f20"/>
<rect x="207.30" y="855.20" width="13.4" height="13.4" fill="#231f20"/>
<rect x="207.55" y="896.45" width="12.9" height="12.9" fill="none" stroke="#231f20" stroke-width="1.7"/>
<text transform="translate(239.30,794.60) scale(1.0078,1)" x="-1.50" y="0" font-size="35.2" fill="#231f20">control</text>
<text transform="translate(240.60,834.60) scale(1.0130,1)" x="-2.89" y="0" font-size="35.2" fill="#231f20">MIA</text>
<text transform="translate(240.60,874.60) scale(1.0092,1)" x="-2.89" y="0" font-size="35.2" fill="#231f20">MIA+OTX015</text>
<text transform="translate(240.80,913.80) scale(0.9958,1)" x="-1.67" y="0" font-size="35.2" fill="#231f20">OTX015</text>
<text transform="translate(452.30,978.70) scale(1.0118,1)" x="-2.34" y="0" font-size="35.2" fill="#231f20">r=-0.5499</text>
<text transform="translate(452.90,1018.90) scale(0.9830,1)" x="-2.89" y="0" font-size="35.2" fill="#231f20">R</text>
<text transform="translate(476.90,1000.20) scale(1.0717,1)" x="-0.85" y="0" font-size="17" fill="#231f20">2</text>
<text transform="translate(487.60,1018.90) scale(0.9947,1)" x="-1.72" y="0" font-size="35.2" fill="#231f20">=0.3024</text>
<text transform="translate(452.60,1058.90) scale(1.0064,1)" x="-2.27" y="0" font-size="35.2" fill="#231f20">p=0.0066</text>
<text transform="translate(55.30,1182.70) rotate(-90) scale(0.9811,1)" x="-0.07" y="0" font-size="35.2" fill="#231f20">A</text>
<text transform="translate(55.30,1158.30) rotate(-90) scale(0.8468,1)" x="-2.44" y="0" font-size="35.2" fill="#231f20">β</text>
<text transform="translate(61.30,1138.10) rotate(-90) scale(0.9645,1)" x="-1.98" y="0" font-size="26" fill="#231f20">1-40</text>
<text transform="translate(55.30,1076.90) rotate(-90) scale(0.9710,1)" x="-2.51" y="0" font-size="35.2" fill="#231f20">[AU]</text>
<circle cx="1081.15" cy="953.70" r="1.8" fill="#231f20"/>
<circle cx="1081.15" cy="962.97" r="1.8" fill="#231f20"/>
<circle cx="1081.15" cy="972.24" r="1.8" fill="#231f20"/>
<circle cx="1081.15" cy="981.51" r="1.8" fill="#231f20"/>
<circle cx="1081.15" cy="990.78" r="1.8" fill="#231f20"/>
<circle cx="1081.15" cy="1000.05" r="1.8" fill="#231f20"/>
<circle cx="1081.15" cy="1009.32" r="1.8" fill="#231f20"/>
<circle cx="1081.15" cy="1018.59" r="1.8" fill="#231f20"/>
<circle cx="1081.15" cy="1027.86" r="1.8" fill="#231f20"/>
<circle cx="1081.15" cy="1037.13" r="1.8" fill="#231f20"/>
<circle cx="1081.15" cy="1046.40" r="1.8" fill="#231f20"/>
<circle cx="1081.15" cy="1055.67" r="1.8" fill="#231f20"/>
<circle cx="1081.15" cy="1064.94" r="1.8" fill="#231f20"/>
<circle cx="1081.15" cy="1074.21" r="1.8" fill="#231f20"/>
<circle cx="1081.15" cy="1083.48" r="1.8" fill="#231f20"/>
<circle cx="1081.15" cy="1092.75" r="1.8" fill="#231f20"/>
<circle cx="1081.15" cy="1102.02" r="1.8" fill="#231f20"/>
<circle cx="1081.15" cy="1111.29" r="1.8" fill="#231f20"/>
<circle cx="1081.15" cy="1120.56" r="1.8" fill="#231f20"/>
<circle cx="1081.15" cy="1129.83" r="1.8" fill="#231f20"/>
<circle cx="1081.15" cy="1139.10" r="1.8" fill="#231f20"/>
<circle cx="1081.15" cy="1148.37" r="1.8" fill="#231f20"/>
<circle cx="1081.15" cy="1157.64" r="1.8" fill="#231f20"/>
<circle cx="1081.15" cy="1166.91" r="1.8" fill="#231f20"/>
<circle cx="1081.15" cy="1176.18" r="1.8" fill="#231f20"/>
<circle cx="1081.15" cy="1185.45" r="1.8" fill="#231f20"/>
<circle cx="1081.15" cy="1194.72" r="1.8" fill="#231f20"/>
<circle cx="1081.15" cy="1203.99" r="1.8" fill="#231f20"/>
<circle cx="1081.15" cy="1213.26" r="1.8" fill="#231f20"/>
<circle cx="1081.15" cy="1222.53" r="1.8" fill="#231f20"/>
<circle cx="1081.15" cy="1231.80" r="1.8" fill="#231f20"/>
<circle cx="1081.15" cy="1241.07" r="1.8" fill="#231f20"/>
<circle cx="1081.15" cy="1250.34" r="1.8" fill="#231f20"/>
<line x1="1004.20" y1="1064.40" x2="1189.80" y2="1163.60" stroke="#e5391d" stroke-width="2.9" />
<line x1="929.20" y1="951.60" x2="929.20" y2="1259.00" stroke="#231f20" stroke-width="3.0" />
<line x1="915.50" y1="1257.50" x2="1234.60" y2="1257.50" stroke="#231f20" stroke-width="3.0" />
<line x1="915.50" y1="1257.50" x2="929.20" y2="1257.50" stroke="#231f20" stroke-width="3.0" />
<text transform="translate(911.80,1269.40) scale(0.9659,1)" x="-47.56" y="0" font-size="35.2" fill="#231f20">0.0</text>
<line x1="915.50" y1="1196.62" x2="929.20" y2="1196.62" stroke="#231f20" stroke-width="3.0" />
<text transform="translate(911.80,1208.52) scale(0.9659,1)" x="-47.16" y="0" font-size="35.2" fill="#231f20">0.2</text>
<line x1="915.50" y1="1135.74" x2="929.20" y2="1135.74" stroke="#231f20" stroke-width="3.0" />
<text transform="translate(911.80,1147.64) scale(0.9659,1)" x="-47.90" y="0" font-size="35.2" fill="#231f20">0.4</text>
<line x1="915.50" y1="1074.86" x2="929.20" y2="1074.86" stroke="#231f20" stroke-width="3.0" />
<text transform="translate(911.80,1086.76) scale(0.9659,1)" x="-47.39" y="0" font-size="35.2" fill="#231f20">0.6</text>
<line x1="915.50" y1="1013.98" x2="929.20" y2="1013.98" stroke="#231f20" stroke-width="3.0" />
<text transform="translate(911.80,1025.88) scale(0.9659,1)" x="-47.40" y="0" font-size="35.2" fill="#231f20">0.8</text>
<line x1="915.50" y1="953.10" x2="929.20" y2="953.10" stroke="#231f20" stroke-width="3.0" />
<text transform="translate(911.80,965.00) scale(0.9659,1)" x="-47.56" y="0" font-size="35.2" fill="#231f20">1.0</text>
<line x1="929.20" y1="1257.50" x2="929.20" y2="1270.70" stroke="#231f20" stroke-width="3.0" />
<text transform="translate(928.60,1304.30) scale(0.9659,1)" x="-24.47" y="0" font-size="35.2" fill="#231f20">0.0</text>
<line x1="989.98" y1="1257.50" x2="989.98" y2="1270.70" stroke="#231f20" stroke-width="3.0" />
<text transform="translate(989.38,1304.30) scale(0.9659,1)" x="-24.27" y="0" font-size="35.2" fill="#231f20">0.2</text>
<line x1="1050.76" y1="1257.50" x2="1050.76" y2="1270.70" stroke="#231f20" stroke-width="3.0" />
<text transform="translate(1050.16,1304.30) scale(0.9659,1)" x="-24.64" y="0" font-size="35.2" fill="#231f20">0.4</text>
<line x1="1111.54" y1="1257.50" x2="1111.54" y2="1270.70" stroke="#231f20" stroke-width="3.0" />
<text transform="translate(1110.94,1304.30) scale(0.9659,1)" x="-24.38" y="0" font-size="35.2" fill="#231f20">0.6</text>
<line x1="1172.32" y1="1257.50" x2="1172.32" y2="1270.70" stroke="#231f20" stroke-width="3.0" />
<text transform="translate(1171.72,1304.30) scale(0.9659,1)" x="-24.39" y="0" font-size="35.2" fill="#231f20">0.8</text>
<line x1="1233.10" y1="1257.50" x2="1233.10" y2="1270.70" stroke="#231f20" stroke-width="3.0" />
<text transform="translate(1232.50,1304.30) scale(0.9659,1)" x="-25.12" y="0" font-size="35.2" fill="#231f20">1.0</text>
<text transform="translate(1081.60,1352.00) scale(0.9673,1)" x="-73.85" y="0" font-size="35.2" fill="#231f20">ID (NOR)</text>
<circle cx="1140.10" cy="1012.40" r="6.0" fill="none" stroke="#231f20" stroke-width="1.9"/>
<circle cx="1062.90" cy="1053.70" r="6.0" fill="none" stroke="#231f20" stroke-width="1.9"/>
<circle cx="1107.60" cy="1085.40" r="6.0" fill="none" stroke="#231f20" stroke-width="1.9"/>
<circle cx="1102.90" cy="1144.30" r="6.0" fill="none" stroke="#231f20" stroke-width="1.9"/>
<circle cx="1058.60" cy="1171.60" r="6.0" fill="none" stroke="#231f20" stroke-width="1.9"/>
<circle cx="1122.30" cy="1190.30" r="6.0" fill="none" stroke="#231f20" stroke-width="1.9"/>
<rect x="1105.00" y="1115.30" width="11.6" height="11.6" fill="none" stroke="#231f20" stroke-width="1.7"/>
<rect x="1186.00" y="1124.10" width="11.6" height="11.6" fill="none" stroke="#231f20" stroke-width="1.7"/>
<rect x="1095.30" y="1144.80" width="11.6" height="11.6" fill="none" stroke="#231f20" stroke-width="1.7"/>
<rect x="1174.70" y="1149.80" width="11.6" height="11.6" fill="none" stroke="#231f20" stroke-width="1.7"/>
<rect x="1119.00" y="1170.30" width="11.6" height="11.6" fill="none" stroke="#231f20" stroke-width="1.7"/>
<rect x="1080.30" y="1178.30" width="11.6" height="11.6" fill="none" stroke="#231f20" stroke-width="1.7"/>
<circle cx="1057.40" cy="995.00" r="7.0" fill="#231f20"/>
<circle cx="1003.40" cy="1048.40" r="7.0" fill="#231f20"/>
<circle cx="1049.40" cy="1062.70" r="7.0" fill="#231f20"/>
<circle cx="1089.90" cy="1059.40" r="7.0" fill="#231f20"/>
<circle cx="1015.70" cy="1087.60" r="7.0" fill="#231f20"/>
<circle cx="1028.20" cy="1088.60" r="7.0" fill="#231f20"/>
<rect x="1131.85" y="1143.05" width="12.5" height="12.5" fill="#231f20"/>
<rect x="1142.85" y="1149.85" width="12.5" height="12.5" fill="#231f20"/>
<rect x="1130.55" y="1159.85" width="12.5" height="12.5" fill="#231f20"/>
<rect x="1158.05" y="1153.55" width="12.5" height="12.5" fill="#231f20"/>
<rect x="1183.75" y="1162.85" width="12.5" height="12.5" fill="#231f20"/>
<circle cx="995.10" cy="784.40" r="6.0" fill="none" stroke="#231f20" stroke-width="1.9"/>
<circle cx="995.10" cy="822.90" r="7.0" fill="#231f20"/>
<rect x="988.40" y="855.20" width="13.4" height="13.4" fill="#231f20"/>
<rect x="988.65" y="896.45" width="12.9" height="12.9" fill="none" stroke="#231f20" stroke-width="1.7"/>
<text transform="translate(1020.30,794.60) scale(1.0078,1)" x="-1.50" y="0" font-size="35.2" fill="#231f20">control</text>
<text transform="translate(1021.60,834.60) scale(1.0130,1)" x="-2.89" y="0" font-size="35.2" fill="#231f20">MIA</text>
<text transform="translate(1021.60,874.60) scale(1.0092,1)" x="-2.89" y="0" font-size="35.2" fill="#231f20">MIA+OTX015</text>
<text transform="translate(1021.80,913.80) scale(0.9958,1)" x="-1.67" y="0" font-size="35.2" fill="#231f20">OTX015</text>
<text transform="translate(1247.90,968.50) scale(1.0031,1)" x="-2.34" y="0" font-size="35.2" fill="#231f20">r=-0.5015</text>
<text transform="translate(1248.40,1008.70) scale(0.9830,1)" x="-2.89" y="0" font-size="35.2" fill="#231f20">R</text>
<text transform="translate(1272.30,990.00) scale(1.0717,1)" x="-0.85" y="0" font-size="17" fill="#231f20">2</text>
<text transform="translate(1283.00,1008.70) scale(1.0006,1)" x="-1.72" y="0" font-size="35.2" fill="#231f20">=0.2515</text>
<text transform="translate(1247.90,1048.30) scale(1.0042,1)" x="-2.27" y="0" font-size="35.2" fill="#231f20">p=0.0148</text>
<text transform="translate(843.40,1182.70) rotate(-90) scale(0.9811,1)" x="-0.07" y="0" font-size="35.2" fill="#231f20">A</text>
<text transform="translate(843.40,1158.50) rotate(-90) scale(0.8468,1)" x="-2.44" y="0" font-size="35.2" fill="#231f20">β</text>
<text transform="translate(850.20,1139.20) rotate(-90) scale(0.9477,1)" x="-1.98" y="0" font-size="26" fill="#231f20">1-42</text>
<text transform="translate(843.40,1078.00) rotate(-90) scale(0.9616,1)" x="-2.51" y="0" font-size="35.2" fill="#231f20">[AU]</text>
</svg>
</body></html>
